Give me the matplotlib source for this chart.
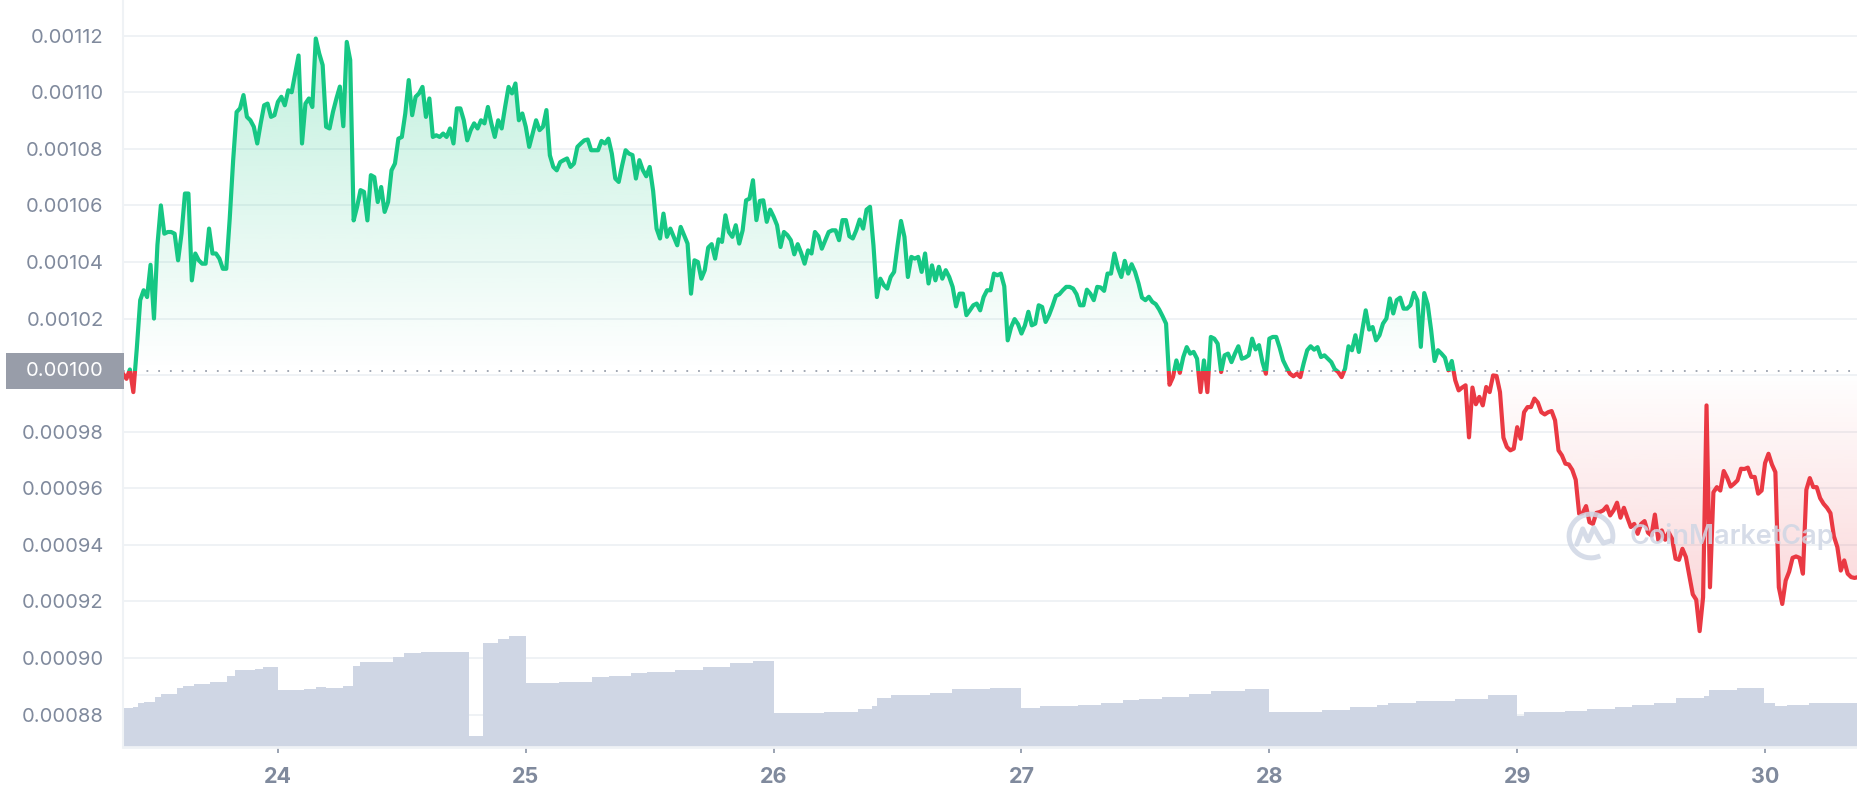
import numpy as np
import matplotlib
matplotlib.use("Agg")
import matplotlib.pyplot as plt
import matplotlib.transforms as mtransforms
from matplotlib.patches import Rectangle, PathPatch, Arc
from matplotlib.path import Path
from matplotlib.colors import to_rgb

plt.rcParams['font.family'] = ['Inter', 'DejaVu Sans']

# Price, one value every 20 minutes from the 23rd 09:00 (units of 1e-5)
price_e5 = [
    100.05, 99.87, 100.2, 99.4, 100.93, 102.65, 103.0, 102.76, 103.9, 102.0,
    104.6, 106.0, 105.0, 105.06, 105.06, 105.0, 104.06, 105.0, 106.42, 106.42,
    103.35, 104.3, 104.06, 103.94, 103.94, 105.18, 104.3, 104.3, 104.12, 103.76,
    103.76, 105.53, 107.6, 109.3, 109.43, 109.9, 109.13, 109.01, 108.78, 108.19,
    108.9, 109.54, 109.6, 109.13, 109.19, 109.66, 109.84, 109.54, 110.07, 110.0,
    110.66, 111.3, 108.19, 109.6, 109.78, 109.48, 111.9, 111.37, 110.96, 108.78,
    108.72, 109.31, 109.78, 110.2, 108.8, 111.78, 111.14, 105.47, 105.95, 106.54,
    106.48, 105.47, 107.07, 107.0, 106.12, 106.65, 105.77, 106.12, 107.24, 107.48,
    108.36, 108.42, 109.25, 110.43, 109.19, 109.84, 109.96, 110.19, 109.13, 109.78,
    108.42, 108.48, 108.42, 108.54, 108.42, 108.72, 108.19, 109.43, 109.43, 109.01,
    108.3, 108.66, 108.9, 108.72, 109.01, 108.9, 109.48, 108.9, 108.42, 109.01,
    108.72, 109.48, 110.19, 109.96, 110.31, 109.01, 109.25, 108.78, 108.07, 108.54,
    109.01, 108.66, 108.78, 109.37, 107.77, 107.36, 107.24, 107.53,
    107.6, 107.66, 107.36, 107.48, 108.07, 108.19, 108.3, 108.33, 107.95, 107.95,
    107.95, 108.28, 108.19, 108.36, 107.83, 106.95, 106.83, 107.42, 107.95, 107.83,
    107.78, 106.95, 107.6, 107.25, 107.03, 107.36, 106.51, 105.18, 104.83, 105.71,
    104.89, 105.18, 104.89, 104.59, 105.24, 104.95, 104.65, 102.88, 104.06, 104.0,
    103.41, 103.71, 104.51, 104.63, 104.12, 104.8, 104.71, 105.65, 105.06, 104.89,
    105.3, 104.65, 105.12, 106.18, 106.24, 106.89, 105.48, 106.16, 106.18, 105.42,
    105.85, 105.6, 105.3, 104.53, 105.06, 104.95, 104.77, 104.27, 104.63, 104.32,
    103.94, 104.41, 104.3, 105.06, 104.91, 104.47, 104.77, 105.06, 105.12, 105.12,
    104.77, 105.48, 105.48, 104.91, 104.83, 105.12, 105.5, 105.18, 105.85, 105.95,
    104.59, 102.76, 103.41, 103.18, 103.06, 103.47, 103.65, 104.59, 105.45, 104.89,
    103.47, 104.18, 104.12, 104.18, 103.65, 104.3, 103.24, 103.88, 103.35, 103.83,
    103.41, 103.71, 103.47, 103.12, 102.43, 102.88, 102.88, 102.12, 102.29, 102.47,
    102.53, 102.29, 102.76, 103.0, 103.0, 103.59, 103.53, 103.59,
    103.14, 101.23, 101.7, 101.98, 101.8, 101.47, 101.76, 102.24, 101.76, 101.82,
    102.47, 102.41, 101.88, 102.12, 102.44, 102.8, 102.86, 103.0, 103.12, 103.12,
    103.06, 102.86, 102.47, 102.47, 103.02, 102.88, 102.65, 103.12, 103.1, 102.98,
    103.59, 103.59, 104.3, 103.8, 103.47, 104.04, 103.59, 103.92, 103.65, 103.24,
    102.74, 102.65, 102.77, 102.59, 102.51, 102.32, 102.08, 101.82, 99.66, 99.93,
    100.52, 100.08, 100.64, 100.99, 100.76, 100.82, 100.58, 99.4, 100.52, 99.4,
    101.35, 101.29, 101.11, 100.11, 100.7, 100.76, 100.46, 100.76, 101.02, 100.58,
    100.62, 100.7, 101.29, 100.91, 101.06, 100.46, 100.05, 101.29, 101.35, 101.35,
    100.97, 100.52, 100.27, 100.05, 99.96, 100.05, 99.93, 100.43, 100.88, 101.02,
    100.9, 100.99, 100.64, 100.7, 100.58, 100.46, 100.21, 100.11, 99.93, 100.23,
    101.02, 100.88, 101.41, 100.82, 101.59, 102.29, 101.61, 101.7, 101.23, 101.41,
    101.82, 102.0, 102.71, 102.18, 102.65, 102.74, 102.35, 102.35, 102.47, 102.91,
    102.65, 101.0, 102.9, 102.5, 101.59, 100.5, 100.88,
    100.76, 100.62, 100.17, 100.5, 99.82, 99.46, 99.56, 99.64, 97.8, 99.56,
    98.97, 99.23, 98.93, 99.58, 99.4, 99.99, 99.97, 99.4, 97.79, 97.46,
    97.34, 97.4, 98.16, 97.75, 98.69, 98.87, 98.87, 99.17, 99.03, 98.69,
    98.61, 98.69, 98.73, 98.4, 97.34, 97.16, 96.87, 96.84, 96.65, 96.3,
    95.1, 95.12, 95.37, 94.8, 94.74, 95.13, 95.16, 95.22, 95.36, 95.04,
    95.22, 95.49, 94.96, 95.31, 94.96, 94.63, 94.74, 94.39, 94.74, 94.84,
    94.43, 94.33, 95.07, 94.16, 94.51, 94.18, 94.44, 94.21, 93.51, 93.47,
    93.86, 93.57, 92.92, 92.25, 92.06, 90.95, 92.15, 98.93, 92.5, 95.86,
    96.04, 95.92, 96.61, 96.37, 96.06, 96.16, 96.28, 96.69, 96.68, 96.73,
    96.4, 96.4, 95.81, 95.92, 96.89, 97.22, 96.84, 96.57, 92.5, 91.91,
    92.74, 93.05, 93.54, 93.59, 93.54, 92.98, 95.95, 96.36, 96.04, 96.04,
    95.65, 95.45, 95.31, 95.12, 94.3, 93.92, 93.09, 93.45, 92.98, 92.86,
    92.83, 92.86,
]
open_price = 0.0010014

# 24h volume (relative units), step changes: day-of-month -> value
vol_t = [23.375, 23.415, 23.4375, 23.46, 23.504, 23.527, 23.594, 23.616, 23.66, 23.728,
         23.795, 23.828, 23.906, 23.94,
         24.0, 24.107, 24.152, 24.196, 24.263, 24.304, 24.33, 24.397, 24.464, 24.509,
         24.576, 24.6875, 24.77, 24.828, 24.888, 24.933,
         25.0, 25.134, 25.268, 25.335, 25.424, 25.49, 25.603, 25.714, 25.826, 25.915,
         26.0, 26.205, 26.339, 26.395, 26.417, 26.473, 26.63, 26.719, 26.873,
         27.0, 27.074, 27.23, 27.319, 27.408, 27.475, 27.565, 27.676, 27.766, 27.9,
         28.0, 28.212, 28.324, 28.435, 28.48, 28.592, 28.748, 28.882,
         29.0, 29.027, 29.194, 29.283, 29.395, 29.462, 29.551, 29.64, 29.752, 29.775, 29.886,
         29.996, 30.042, 30.087, 30.176, 30.375]
vol_v = [38.4, 40.0, 43.4, 45.0, 50.0, 52.7, 59.0, 60.7, 62.4, 64.4,
         70.7, 76.7, 77.4, 79.4,
         56.7, 57.7, 59.4, 58.4, 61.0, 81.0, 84.4, 85.0, 89.4, 93.4,
         95.0, 94.4, 11.0, 103.7, 107.4, 110.0,
         63.5, 64.7, 69.4, 71.0, 73.4, 75.0, 76.7, 80.0, 83.4, 86.0,
         33.5, 35.0, 37.4, 40.7, 48.4, 51.7, 54.0, 57.4, 58.7,
         38.4, 40.7, 41.7, 44.0, 46.7, 47.7, 49.4, 52.7, 56.0, 58.0,
         35.0, 36.7, 39.4, 41.4, 44.0, 45.7, 47.4, 51.4,
         31.0, 34.7, 36.0, 37.7, 40.0, 42.0, 44.0, 48.7, 50.7, 56.7, 59.0,
         43.4, 41.0, 41.7, 43.7, 43.7]

day_ticks = [24, 25, 26, 27, 28, 29, 30]
price_ticks = [0.00088, 0.00090, 0.00092, 0.00094, 0.00096, 0.00098, 0.00100,
               0.00102, 0.00104, 0.00106, 0.00108, 0.00110, 0.00112]

GREEN = "#16c784"
RED = "#ea3943"
GRID = "#eff2f5"
TXT = "#808a9d"
VOL = "#cfd6e4"

t = 23.375 + np.arange(len(price_e5)) / 72
price = np.array(price_e5) * 1e-5
y_min, y_max = 0.00086853, 0.00113262

fig = plt.figure(figsize=(18.58, 8), dpi=100)
ax = fig.add_axes([123 / 1858, 53 / 800, 1735 / 1858, 747 / 800])


def gradient_fill(ax, x, y, base, color, alpha_far, y_far, zorder):
    # polygon between curve and baseline, filled with a vertical alpha gradient
    verts = np.column_stack([np.r_[x[0], x, x[-1]], np.r_[base, y, base]])
    patch = PathPatch(Path(verts), facecolor="none", edgecolor="none",
                      transform=ax.transData)
    ax.add_patch(patch)
    rgba = np.zeros((256, 1, 4))
    rgba[..., :3] = to_rgb(color)
    rgba[:, 0, 3] = np.linspace(0, alpha_far, 256)
    lo, hi = min(base, y_far), max(base, y_far)
    im = ax.imshow(rgba, extent=[x[0], x[-1], lo, hi],
                   origin="lower" if y_far > base else "upper",
                   aspect="auto", interpolation="bilinear", zorder=zorder)
    im.set_clip_path(patch)


# volume at the bottom (over the grid)
vol_height = 0.148
vol_frac = np.array(vol_v) * vol_height / max(vol_v)
ax.fill_between(vol_t, 0, vol_frac, step="post", color=VOL, lw=0,
                transform=ax.get_xaxis_transform(), zorder=1)

gradient_fill(ax, t, np.maximum(price, open_price), open_price, GREEN, 0.27, 0.00112, 2)
gradient_fill(ax, t, np.minimum(price, open_price), open_price, RED, 0.22, 0.00091, 2)

# watermark
fig.text(1630 / 1858, (800 - 537) / 800, "CoinMarketCap", fontsize=19.5, fontweight="semibold",
         color=VOL, alpha=0.85, ha="left", va="center", zorder=3)
logo = fig.add_axes([(1591 - 26) / 1858, (800 - 536 - 26) / 800, 52 / 1858, 52 / 800])
logo.set_xlim(-1.1, 1.1)
logo.set_ylim(-1.1, 1.1)
logo.axis("off")
logo.add_patch(Arc((0, 0), 1.85, 1.85, theta1=-20, theta2=295, lw=3.6, color=VOL, alpha=0.85))
logo.plot([-0.6, -0.35, -0.12, 0.12, 0.35, 0.52, 0.78],
          [-0.35, 0.3, -0.2, 0.35, -0.05, -0.3, -0.22],
          color=VOL, lw=3.6, alpha=0.85, solid_capstyle="round", solid_joinstyle="round")

# open-price reference line
ax.axhline(open_price, color="#9aa1ae", lw=1.3, ls=(0, (1, 5.5)), zorder=2.5)

# price line, green above the open price, red below
x0, x1 = t[0], t[-1]
up, = ax.plot(t, price, color=GREEN, lw=3.0, solid_joinstyle="round", zorder=4)
up.set_clip_path(Rectangle((x0 - 1, open_price), x1 - x0 + 2, 1, transform=ax.transData))
dn, = ax.plot(t, price, color=RED, lw=3.0, solid_joinstyle="round", zorder=4)
dn.set_clip_path(Rectangle((x0 - 1, open_price - 1), x1 - x0 + 2, 1, transform=ax.transData))

ax.set_xlim(x0, x1)
ax.set_ylim(y_min, y_max)

ax.set_yticks(price_ticks)
ax.set_yticklabels(["" if abs(v - 0.001) < 1e-9 else f"{v:.5f}" for v in price_ticks])
ax.set_xticks(day_ticks)
ax.set_xticklabels([str(d) for d in day_ticks], fontweight="bold")
ax.tick_params(axis="y", length=0, pad=14, labelsize=14.5, labelcolor=TXT)
ax.tick_params(axis="x", length=4.5, width=1.2, color="#8a93a6", pad=10,
               labelsize=15.5, labelcolor=TXT)
ax.grid(axis="y", color=GRID, lw=1.4)
ax.set_axisbelow(True)
for s in ["top", "right"]:
    ax.spines[s].set_visible(False)
ax.spines["left"].set_color(GRID)
ax.spines["left"].set_linewidth(1.5)
ax.spines["bottom"].set_color(GRID)
ax.spines["bottom"].set_linewidth(2)

# open-price label box
trans = mtransforms.blended_transform_factory(fig.transFigure, ax.transData)
box_h = (y_max - y_min) * 36 / 747
fig.add_artist(Rectangle((6 / 1858, open_price - box_h / 2), 118 / 1858, box_h,
                         transform=trans, facecolor="#989da9", edgecolor="none", zorder=5))
fig.text(104 / 1858, open_price, "0.00100", transform=trans, ha="right", va="center",
         fontsize=14.5, color="white", zorder=6)

fig.savefig("out.png", dpi=100, facecolor="white")
